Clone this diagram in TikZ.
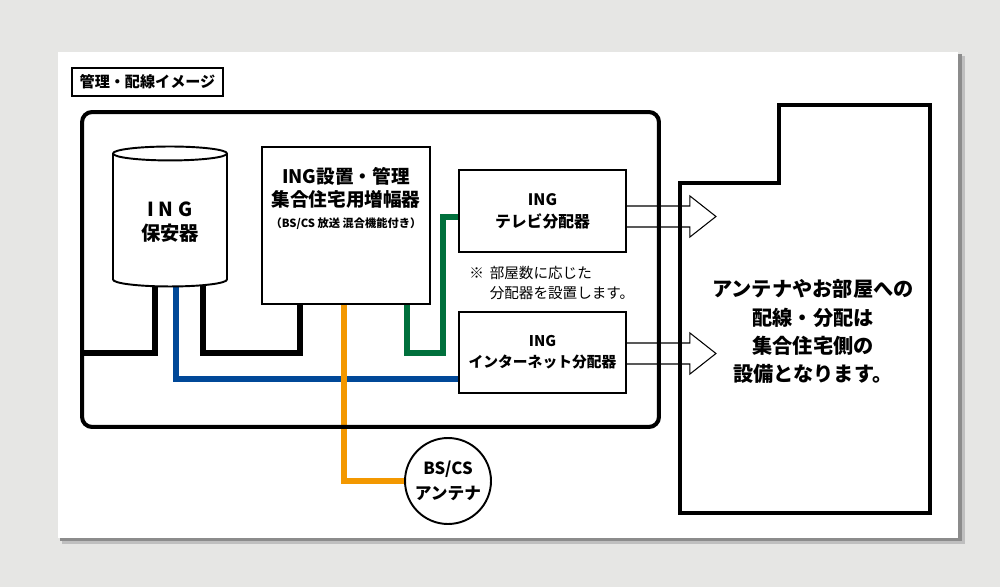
\documentclass[tikz,border=0pt]{standalone}
\usepackage{fontspec}
\setmainfont{Noto Sans CJK JP}
\usepackage{xcolor}
\usepackage{tikz}
\usetikzlibrary{positioning,shapes.geometric}

\definecolor{paper}{RGB}{230,230,228}
\definecolor{wireblue}{RGB}{0,72,152}
\definecolor{wireorange}{RGB}{243,152,0}
\definecolor{wiregreen}{RGB}{0,112,60}

\pgfdeclarelayer{sheet}
\pgfdeclarelayer{wires}
\pgfsetlayers{sheet,wires,main}

\begin{document}
\begin{tikzpicture}[x=0.02cm, y=-0.02cm,
  box/.style={rectangle, draw, fill=white, line width=1.1pt, inner sep=0pt,
              align=center},
  boxtext/.style={align=center, inner sep=0pt},
  wire/.style={line width=2.9pt},
  heavy/.style={draw, line width=2.3pt, line join=miter},
  bigarrow/.style={draw, fill=white, line width=0.6pt, line join=miter}]
  \useasboundingbox (0,0) rectangle (1000,587);

  % sheet and its shadow
  \begin{pgfonlayer}{sheet}
    \fill[paper] (0,0) rectangle (1000,587);
    \fill[black!25] (62,56) rectangle (965,544);
    \fill[black!45] (60,54) rectangle (962,541);
    \fill[white] (58,52) rectangle (958,538);
  \end{pgfonlayer}

  \node[rectangle, draw, line width=0.6pt, minimum width=3.02cm, minimum height=0.56cm,
        font=\fontsize{8.6}{10}\selectfont\bfseries] (title) at (147.5,82)
       {管理・配線イメージ};

  \node[rectangle, heavy, rounded corners=0.2cm, minimum width=11.54cm,
        minimum height=6.3cm] (frame) at (370.5,269.5) {};

  \node[cylinder, shape border rotate=90, aspect=0.2, draw, fill=white,
        line width=1.1pt, minimum width=2.28cm, minimum height=2.8cm,
        align=center, font=\fontsize{11}{13.6}\selectfont\bfseries] (cyl) at (170,222)
       {I N G\\保安器};

  \node[box, minimum width=3.36cm, minimum height=3.14cm] (amp) at (346,225.5) {};
  \node[boxtext, below=0.42cm of amp.north, font=\fontsize{10.6}{13}\selectfont\bfseries]
       (amptext) {ING設置・管理\\集合住宅用増幅器\\[-1pt]
       {\fontsize{6.4}{8}\selectfont （BS/CS 放送 混合機能付き）}};

  \node[box, minimum width=3.34cm, minimum height=1.64cm,
        font=\fontsize{9}{12.5}\selectfont\bfseries] (tv) at (542.5,211)
       {ING\\テレビ分配器};
  \node[box, minimum width=3.34cm, minimum height=1.62cm,
        font=\fontsize{8.4}{12}\selectfont\bfseries] (net) at (542.5,352.5)
       {ING\\インターネット分配器};

  \node[align=left, inner sep=0pt, anchor=north west,
        font=\fontsize{8.3}{11.3}\selectfont] (note) at (469,266)
       {※\hspace{0.4em}部屋数に応じた\\\hphantom{※}\hspace{0.4em}分配器を設置します。};

  \node[circle, draw, fill=white, line width=1.1pt, minimum size=1.72cm, inner sep=0pt,
        align=center, font=\fontsize{9.5}{14}\selectfont\bfseries] (ant) at (448,481)
       {BS/CS\\アンテナ};

  % building on the resident side
  \draw[heavy] (680,513) -- (680,183) -- (779,183) -- (779,105) -- (930,105)
        -- (930,513) -- cycle;
  \node[align=center, inner sep=0pt, font=\fontsize{11.5}{16}\selectfont\bfseries]
       (side) at (813,331.5)
       {アンテナやお部屋への\\配線・分配は\\集合住宅側の\\設備となります。};

  \coordinate (lowrun) at (0,353);
  \coordinate (greenbend) at (443,0);

  \begin{pgfonlayer}{wires}
    \draw[wire] ([xshift=-0.3cm]cyl.center) |- (frame.west |- lowrun);
    \draw[wire] ([xshift=0.66cm]cyl.center) |- ([xshift=-0.92cm]amp.center |- lowrun)
          -- ([xshift=-0.92cm]amp.center);
    \draw[wire, wireblue] ([xshift=0.12cm]cyl.center) |- ([yshift=-0.53cm]net.west);
    \draw[wire, wireorange] ([xshift=-0.04cm]amp.center) |- (ant.west);
    \draw[wire, wiregreen] ([xshift=1.22cm]amp.center) |- (greenbend |- lowrun)
          |- ([yshift=-0.12cm]tv.west);
    % block arrows
    \draw[bigarrow] ([yshift=0.1cm]tv.east) -- ++(63,0) -- ++(0,-10) -- ++(26,20.5)
          -- ++(-26,20.5) -- ++(0,-10) -- ([yshift=-0.32cm]tv.east);
    \draw[bigarrow] ([yshift=0.19cm]net.east) -- ++(63,0) -- ++(0,-10) -- ++(26,20.5)
          -- ++(-26,20.5) -- ++(0,-10) -- ([yshift=-0.23cm]net.east);
  \end{pgfonlayer}
\end{tikzpicture}
\end{document}
